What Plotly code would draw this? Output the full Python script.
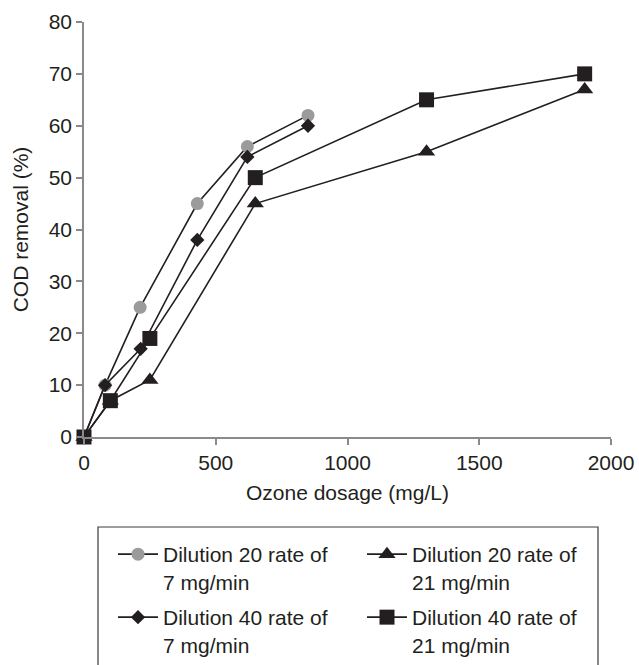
import plotly.graph_objects as go

# Data
x_d20_r7 = [0, 80, 213, 430, 620, 850]
y_d20_r7 = [0, 10, 25, 45, 56, 62]

x_d20_r21 = [0, 100, 250, 650, 1300, 1900]
y_d20_r21 = [0, 7, 11, 45, 55, 67]

x_d40_r7 = [0, 80, 215, 430, 620, 850]
y_d40_r7 = [0, 10, 17, 38, 54, 60]

x_d40_r21 = [0, 100, 250, 650, 1300, 1900]
y_d40_r21 = [0, 7, 19, 50, 65, 70]

names = [
    "Dilution 20 rate of<br>7 mg/min",
    "Dilution 20 rate of<br>21 mg/min",
    "Dilution 40 rate of<br>7 mg/min",
    "Dilution 40 rate of<br>21 mg/min",
]

x_ticks = [0, 500, 1000, 1500, 2000]
y_ticks = [0, 10, 20, 30, 40, 50, 60, 70, 80]

INK = "#231f20"
GRAY_MARK = "#9b9b9b"
AXIS_GRAY = "#8a8a8a"
FONT = "Liberation Sans, Arial, sans-serif"
FS = 21

series = [
    (x_d20_r7, y_d20_r7, names[0], "circle", GRAY_MARK, 13, "legend"),
    (x_d20_r21, y_d20_r21, names[1], "triangle-up", INK, 15, "legend2"),
    (x_d40_r7, y_d40_r7, names[2], "diamond", INK, 11, "legend3"),
    (x_d40_r21, y_d40_r21, names[3], "square", INK, 15, "legend4"),
]

fig = go.Figure()
for xs, ys, nm, sym, col, sz, lg in series:
    fig.add_trace(go.Scatter(
        x=xs, y=ys, name=nm, mode="lines+markers",
        line=dict(color=INK, width=1.6),
        marker=dict(symbol=sym, color=col, size=sz, line=dict(width=0)),
        cliponaxis=False, legend=lg,
    ))

W, H = 639, 665
ml, mr, mt, mb = 84, 28, 22, 228
pw = W - ml - mr
ph = H - mt - mb

def px_to_paper_x(px):
    return (px - ml) / pw

def px_to_paper_y(py):
    return (H - mb - py) / ph

leg_common = dict(
    font=dict(family=FONT, size=FS, color=INK),
    bgcolor="rgba(0,0,0,0)", borderwidth=0,
    xanchor="left", yanchor="top", valign="top",
    orientation="v", tracegroupgap=0, itemwidth=40,
)

fig.update_layout(
    width=W, height=H,
    margin=dict(l=ml, r=mr, t=mt, b=mb, autoexpand=False),
    paper_bgcolor="white", plot_bgcolor="white",
    font=dict(family=FONT, size=FS, color=INK),
    showlegend=True,
    legend=dict(x=px_to_paper_x(113), y=px_to_paper_y(534), **leg_common),
    legend2=dict(x=px_to_paper_x(362), y=px_to_paper_y(534), **leg_common),
    legend3=dict(x=px_to_paper_x(113), y=px_to_paper_y(597), **leg_common),
    legend4=dict(x=px_to_paper_x(362), y=px_to_paper_y(597), **leg_common),
    xaxis=dict(
        range=[0, 2000], tickvals=x_ticks, ticks="outside", ticklen=6,
        tickcolor=AXIS_GRAY, tickwidth=1.5,
        showline=True, linecolor=AXIS_GRAY, linewidth=1.5,
        showgrid=False, zeroline=False,
        title=dict(text="Ozone dosage (mg/L)", standoff=12, font=dict(size=FS)),
        tickfont=dict(size=FS),
    ),
    yaxis=dict(
        range=[0, 80], tickvals=y_ticks, ticks="outside", ticklen=6,
        tickcolor=AXIS_GRAY, tickwidth=1.5,
        showline=True, linecolor=AXIS_GRAY, linewidth=1.5,
        showgrid=False, zeroline=False,
        title=dict(text="COD removal (%)", standoff=14, font=dict(size=FS)),
        tickfont=dict(size=FS),
    ),
    shapes=[dict(
        type="rect", xref="paper", yref="paper",
        x0=px_to_paper_x(98), x1=px_to_paper_x(598),
        y0=px_to_paper_y(720), y1=px_to_paper_y(527),
        line=dict(color="#3a3a3a", width=1.2), fillcolor="rgba(0,0,0,0)",
        layer="below",
    )],
)

fig.write_html(
    "out.html",
    config={"displayModeBar": False},
    post_script="document.body.style.margin='0';document.body.style.overflow='hidden';",
)
